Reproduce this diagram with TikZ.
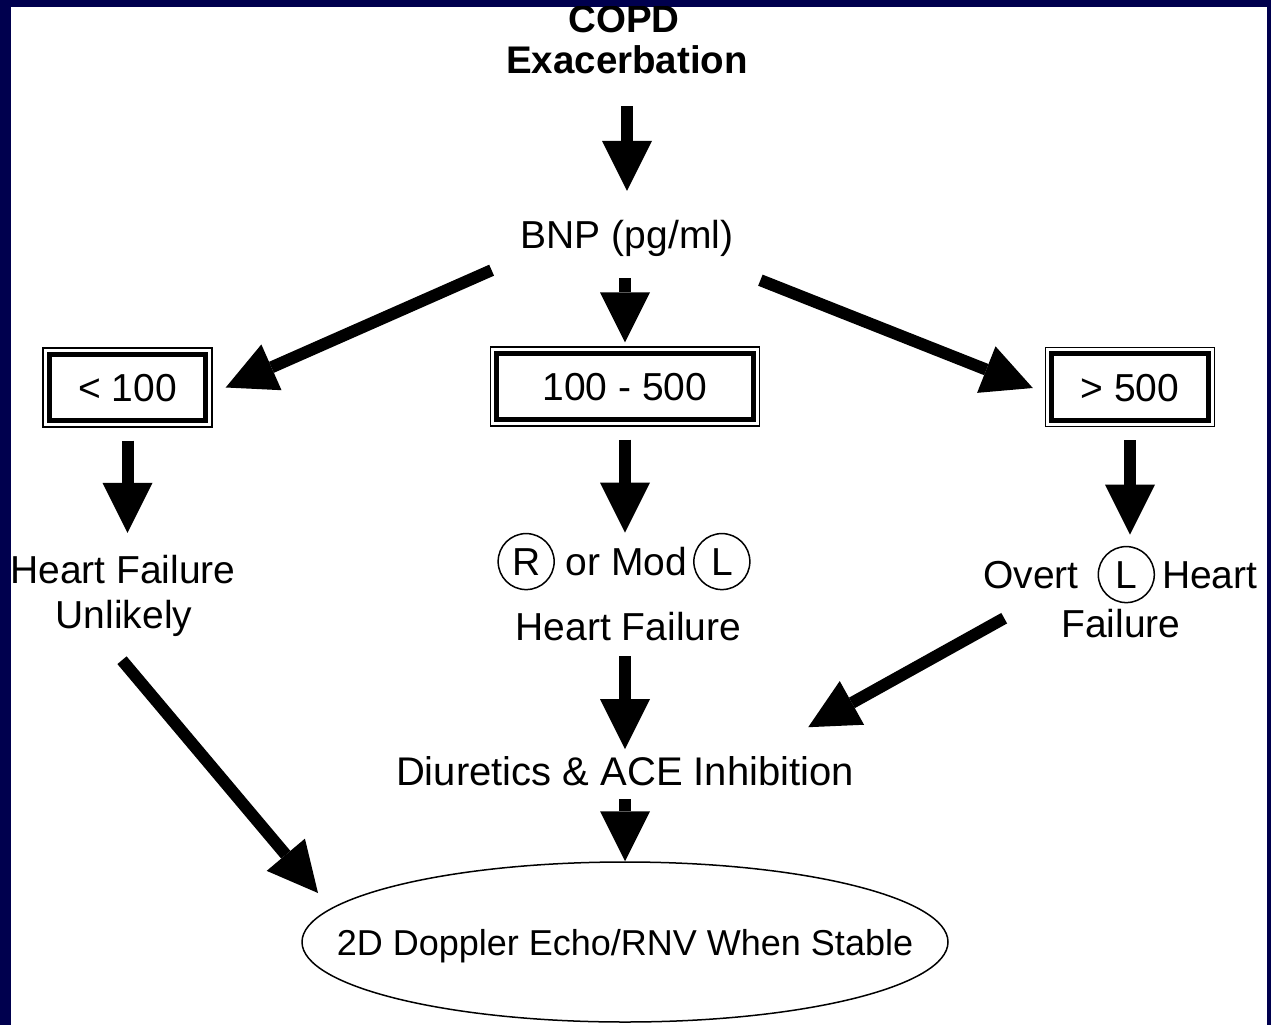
\documentclass[tikz,border=0pt]{standalone}
\usepackage{fontspec}
\setmainfont{Liberation Sans}
\usepackage{tikz}
\usetikzlibrary{arrows.meta,shapes.geometric,positioning}
\definecolor{navyframe}{RGB}{0,0,78}
\newcommand{\cletter}[1]{\tikz[baseline=(cl.base)]\node[circle,draw,line width=1.5pt,minimum size=56pt,inner sep=0pt,anchor=center](cl){#1};}
\tikzset{
  txt/.style={font=\fontsize{39}{46}\selectfont},
  lbl/.style={txt,inner sep=0pt,anchor=base,text height=28pt,text depth=0pt},
  ttl/.style={lbl,font=\bfseries\fontsize{38.5}{44}\selectfont,text height=27.6pt},
  rangebox/.style={lbl,anchor=center,draw,line width=5.3pt,outer sep=0pt,minimum height=66.4pt},
  echoshape/.style={ellipse,draw,line width=1.5pt,minimum width=646pt,minimum height=160pt,inner sep=0pt},
  bigarrow/.style={line width=12pt,-{Triangle[length=50pt 0 0,width=50pt 0 0,line width=0pt 0 0]}}
}
\begin{document}
\begin{tikzpicture}[x=1pt,y=-1pt]
\useasboundingbox (0,0) rectangle (1271,1025);
\fill[navyframe] (0,0) rectangle (1271,1025);
\fill[white] (11,7) rectangle (1267,1025);
\begin{scope}
\clip (11,7) rectangle (1267,1025);
% top
\node[ttl] (copd) at (624,33) {COPD};
\node[ttl] (exac) at (627,74) {Exacerbation};
\node[lbl] (bnp) at (627,248) {BNP (pg/ml)};
% the three ranges
\node[rangebox,minimum width=156.4pt] (low) at (127.5,387.5) {< 100};
\node[rangebox,minimum width=256.4pt] (mid) at (625,386.5) {100 - 500};
\node[rangebox,minimum width=156.4pt] (high) at (1130,387) {> 500};
\foreach \b in {low,mid,high}
  \draw[line width=1.6pt] ([shift={(-6.3,-6.3)}]\b.north west) rectangle ([shift={(6.3,6.3)}]\b.south east);
% outcomes
\node[lbl] (hfl1) at (123,583) {Heart Failure};
\node[lbl] (hfl2) at (124,628) {Unlikely};
\node[txt,inner sep=0pt,anchor=base] (rml) at (624,575) {\cletter{R} or Mod\hspace{6pt}\cletter{L}};
\node[lbl] (hfm) at (628.5,640) {Heart Failure};
\node[txt,inner sep=0pt,anchor=base west] (overt) at (983,588) {Overt\hspace{19pt}\cletter{L}\hspace{7pt}Heart};
\node[lbl] (fail) at (1121,637) {Failure};
\node[lbl,font=\fontsize{40}{46}\selectfont,text height=28.6pt] (diur) at (625,785) {Diuretics \& ACE Inhibition};
\node[echoshape] (echo) at (625,942) {};
\node[lbl,anchor=center,font=\fontsize{36}{42}\selectfont,text height=26pt] (echotext) at (echo.center) {2D Doppler Echo/RNV When Stable};
% arrows
\draw[bigarrow,shorten <=32pt,shorten >=29pt] (exac.south) -- (exac.south |- bnp.north);
\draw[bigarrow,shorten <=30pt,shorten >=11pt] (mid.north |- bnp.south) -- (mid.north);
\draw[bigarrow] ([shift={(-29,22)}]bnp.south west) -- ([shift={(20,0)}]low.east);
\draw[bigarrow] ([shift={(27,32)}]bnp.south east) -- ([shift={(-19,1)}]high.west);
\draw[bigarrow,shorten <=20pt,shorten >=22pt] (low.south) -- (low.south |- hfl1.north);
\draw[bigarrow,shorten <=20pt] (mid.south) -- (mid.south |- rml.north);
\draw[bigarrow,shorten <=20pt,shorten >=11pt] (high.south) -- (high.south |- overt.north);
\draw[bigarrow,shorten <=16pt,shorten >=7pt] (diur.north |- hfm.south) -- (diur.north);
\draw[bigarrow,shorten <=14pt] (diur.south) -- (echo.north);
\draw[bigarrow] ([shift={(-2,32)}]hfl2.south) -- ([shift={(-307,-49)}]echo.center);
\draw[bigarrow] ([shift={(-57,-19)}]fail.south west) -- ([shift={(-46,-29)}]diur.north east);
\end{scope}
\end{tikzpicture}
\end{document}
